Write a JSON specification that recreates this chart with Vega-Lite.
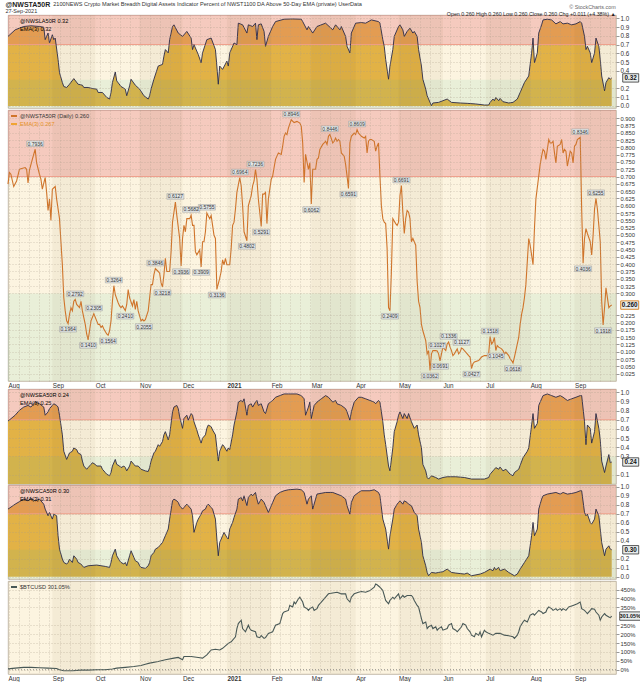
{
"$schema": "https://vega.github.io/schema/vega-lite/v6.json",
"padding": {"left": 5, "top": 0, "right": 0, "bottom": 0},
"background": "#ffffff",
"title": {"text": "@NWSTA50R", "subtitle": "27-Sep-2021", "anchor": "start", "fontSize": 7, "fontWeight": "bold", "subtitleFontSize": 5.5, "subtitlePadding": 1, "offset": -12.5, "color": "#222", "subtitleColor": "#333"},
"spacing": -3,
"resolve": {"scale": {"x": "independent", "y": "independent", "color": "independent", "fill": "independent"}, "legend": {"color": "independent"}, "axis": {"x": "independent", "y": "independent"}},
"datasets": {
"bands": [{"lo": -1, "hi": 0.3, "band": "low"}, {"lo": 0.3, "hi": 0.7, "band": "mid"}, {"lo": 0.7, "hi": 2, "band": "high"}],
"stripes": [{"a": "2020-09-01", "b": "2020-10-01"}, {"a": "2020-11-01", "b": "2020-12-01"}, {"a": "2021-01-01", "b": "2021-02-01"}, {"a": "2021-03-01", "b": "2021-04-01"}, {"a": "2021-05-01", "b": "2021-06-01"}, {"a": "2021-07-01", "b": "2021-08-01"}, {"a": "2021-09-01", "b": "2021-09-30"}],
"last": [{"p": "la", "t": "2021-09-27", "v": 0.32}, {"p": "main", "t": "2021-09-27", "v": 0.26}, {"p": "sea", "t": "2021-09-27", "v": 0.24}, {"p": "sca", "t": "2021-09-27", "v": 0.30}, {"p": "btc", "t": "2021-09-27", "v": 301.05}],
"notes": [
{"t":"2020-08-20","v":0.7936,"pos":"up"},{"t":"2020-09-12","v":0.1964,"pos":"down"},{"t":"2020-09-17","v":0.2792,"pos":"up"},{"t":"2020-09-26","v":0.1410,"pos":"down"},{"t":"2020-09-30","v":0.2305,"pos":"up"},{"t":"2020-10-10","v":0.1564,"pos":"down"},{"t":"2020-10-14","v":0.3264,"pos":"up"},{"t":"2020-10-22","v":0.2410,"pos":"down"},{"t":"2020-11-04","v":0.2055,"pos":"down"},{"t":"2020-11-12","v":0.3846,"pos":"up"},{"t":"2020-11-17","v":0.3218,"pos":"down"},{"t":"2020-11-26","v":0.6127,"pos":"up"},{"t":"2020-11-30","v":0.3936,"pos":"down"},{"t":"2020-12-07","v":0.5682,"pos":"up"},{"t":"2020-12-14","v":0.3909,"pos":"down"},{"t":"2020-12-18","v":0.5755,"pos":"up"},{"t":"2020-12-25","v":0.3136,"pos":"down"},{"t":"2021-01-10","v":0.6964,"pos":"up"},{"t":"2021-01-15","v":0.4802,"pos":"down"},{"t":"2021-01-21","v":0.7236,"pos":"up"},{"t":"2021-01-25","v":0.5291,"pos":"down"},{"t":"2021-02-15","v":0.8946,"pos":"up"},{"t":"2021-03-01","v":0.6062,"pos":"down"},{"t":"2021-03-14","v":0.8446,"pos":"up"},{"t":"2021-03-27","v":0.6591,"pos":"down"},{"t":"2021-04-02","v":0.8609,"pos":"up"},{"t":"2021-04-25","v":0.2409,"pos":"down"},{"t":"2021-05-03","v":0.6691,"pos":"up"},{"t":"2021-05-23","v":0.0362,"pos":"down"},{"t":"2021-05-28","v":0.1027,"pos":"up"},{"t":"2021-05-30","v":0.0691,"pos":"down"},{"t":"2021-06-05","v":0.1336,"pos":"up"},{"t":"2021-06-14","v":0.1127,"pos":"up"},{"t":"2021-06-21","v":0.0427,"pos":"down"},{"t":"2021-07-04","v":0.1518,"pos":"up"},{"t":"2021-07-08","v":0.1045,"pos":"down"},{"t":"2021-07-20","v":0.0618,"pos":"down"},{"t":"2021-09-05","v":0.8346,"pos":"up"},{"t":"2021-09-07","v":0.4036,"pos":"down"},{"t":"2021-09-16","v":0.6255,"pos":"up"},{"t":"2021-09-21","v":0.1918,"pos":"down"}],
"main": [
{"t":"2020-08-01","v":0.674},{"t":"2020-08-02","v":0.714},{"t":"2020-08-03","v":0.708},{"t":"2020-08-05","v":0.666},{"t":"2020-08-07","v":0.685},{"t":"2020-08-09","v":0.725},{"t":"2020-08-10","v":0.727},{"t":"2020-08-13","v":0.731},{"t":"2020-08-14","v":0.725},{"t":"2020-08-15","v":0.678},{"t":"2020-08-16","v":0.722},{"t":"2020-08-18","v":0.759},{"t":"2020-08-20","v":0.7936},{"t":"2020-08-21","v":0.747},{"t":"2020-08-23","v":0.708},{"t":"2020-08-24","v":0.691},{"t":"2020-08-25","v":0.657},{"t":"2020-08-27","v":0.697},{"t":"2020-08-28","v":0.646},{"t":"2020-08-29","v":0.584},{"t":"2020-08-30","v":0.623},{"t":"2020-08-31","v":0.55},
{"t":"2020-09-01","v":0.657},{"t":"2020-09-03","v":0.666},{"t":"2020-09-04","v":0.623},{"t":"2020-09-06","v":0.556},{"t":"2020-09-07","v":0.477},{"t":"2020-09-08","v":0.398},{"t":"2020-09-09","v":0.285},{"t":"2020-09-10","v":0.24},{"t":"2020-09-11","v":0.206},{"t":"2020-09-12","v":0.1964},{"t":"2020-09-13","v":0.228},{"t":"2020-09-14","v":0.251},{"t":"2020-09-15","v":0.24},{"t":"2020-09-16","v":0.273},{"t":"2020-09-17","v":0.2792},{"t":"2020-09-18","v":0.262},{"t":"2020-09-20","v":0.251},{"t":"2020-09-21","v":0.273},{"t":"2020-09-22","v":0.24},{"t":"2020-09-23","v":0.217},{"t":"2020-09-24","v":0.194},{"t":"2020-09-25","v":0.161},{"t":"2020-09-26","v":0.141},{"t":"2020-09-27","v":0.172},{"t":"2020-09-28","v":0.206},{"t":"2020-09-30","v":0.2305},
{"t":"2020-10-02","v":0.206},{"t":"2020-10-03","v":0.194},{"t":"2020-10-04","v":0.194},{"t":"2020-10-05","v":0.183},{"t":"2020-10-06","v":0.189},{"t":"2020-10-07","v":0.178},{"t":"2020-10-09","v":0.161},{"t":"2020-10-10","v":0.1564},{"t":"2020-10-11","v":0.172},{"t":"2020-10-12","v":0.206},{"t":"2020-10-13","v":0.273},{"t":"2020-10-14","v":0.3264},{"t":"2020-10-15","v":0.296},{"t":"2020-10-17","v":0.268},{"t":"2020-10-18","v":0.257},{"t":"2020-10-19","v":0.251},{"t":"2020-10-20","v":0.257},{"t":"2020-10-22","v":0.241},{"t":"2020-10-23","v":0.262},{"t":"2020-10-24","v":0.313},{"t":"2020-10-25","v":0.285},{"t":"2020-10-27","v":0.257},{"t":"2020-10-28","v":0.279},{"t":"2020-10-29","v":0.245},{"t":"2020-10-30","v":0.273},{"t":"2020-10-31","v":0.24},
{"t":"2020-11-01","v":0.223},{"t":"2020-11-02","v":0.206},{"t":"2020-11-03","v":0.211},{"t":"2020-11-04","v":0.2055},{"t":"2020-11-05","v":0.21},{"t":"2020-11-07","v":0.24},{"t":"2020-11-08","v":0.285},{"t":"2020-11-09","v":0.33},{"t":"2020-11-10","v":0.33},{"t":"2020-11-11","v":0.364},{"t":"2020-11-12","v":0.3846},{"t":"2020-11-14","v":0.375},{"t":"2020-11-15","v":0.369},{"t":"2020-11-16","v":0.336},{"t":"2020-11-17","v":0.3218},{"t":"2020-11-18","v":0.364},{"t":"2020-11-19","v":0.42},{"t":"2020-11-20","v":0.375},{"t":"2020-11-22","v":0.375},{"t":"2020-11-23","v":0.443},{"t":"2020-11-24","v":0.544},{"t":"2020-11-25","v":0.578},{"t":"2020-11-26","v":0.6127},{"t":"2020-11-27","v":0.567},{"t":"2020-11-29","v":0.488},{"t":"2020-11-30","v":0.3936},
{"t":"2020-12-01","v":0.488},{"t":"2020-12-02","v":0.533},{"t":"2020-12-03","v":0.511},{"t":"2020-12-04","v":0.556},{"t":"2020-12-06","v":0.556},{"t":"2020-12-07","v":0.5682},{"t":"2020-12-08","v":0.533},{"t":"2020-12-09","v":0.533},{"t":"2020-12-10","v":0.443},{"t":"2020-12-11","v":0.432},{"t":"2020-12-13","v":0.449},{"t":"2020-12-14","v":0.3909},{"t":"2020-12-15","v":0.477},{"t":"2020-12-16","v":0.477},{"t":"2020-12-17","v":0.511},{"t":"2020-12-18","v":0.5755},{"t":"2020-12-20","v":0.556},{"t":"2020-12-21","v":0.567},{"t":"2020-12-22","v":0.533},{"t":"2020-12-23","v":0.499},{"t":"2020-12-24","v":0.488},{"t":"2020-12-25","v":0.3136},{"t":"2020-12-27","v":0.352},{"t":"2020-12-28","v":0.375},{"t":"2020-12-29","v":0.415},{"t":"2020-12-30","v":0.398},{"t":"2020-12-31","v":0.42},
{"t":"2021-01-01","v":0.398},{"t":"2021-01-03","v":0.398},{"t":"2021-01-04","v":0.454},{"t":"2021-01-05","v":0.533},{"t":"2021-01-06","v":0.544},{"t":"2021-01-07","v":0.589},{"t":"2021-01-08","v":0.646},{"t":"2021-01-10","v":0.6964},{"t":"2021-01-11","v":0.668},{"t":"2021-01-12","v":0.6},{"t":"2021-01-13","v":0.511},{"t":"2021-01-15","v":0.4802},{"t":"2021-01-16","v":0.6},{"t":"2021-01-18","v":0.635},{"t":"2021-01-19","v":0.668},{"t":"2021-01-20","v":0.685},{"t":"2021-01-21","v":0.7236},{"t":"2021-01-22","v":0.691},{"t":"2021-01-23","v":0.623},{"t":"2021-01-25","v":0.5291},{"t":"2021-01-26","v":0.64},{"t":"2021-01-27","v":0.64},{"t":"2021-01-28","v":0.646},{"t":"2021-01-29","v":0.539},{"t":"2021-01-30","v":0.623},
{"t":"2021-02-01","v":0.691},{"t":"2021-02-02","v":0.702},{"t":"2021-02-03","v":0.731},{"t":"2021-02-04","v":0.759},{"t":"2021-02-05","v":0.77},{"t":"2021-02-06","v":0.781},{"t":"2021-02-08","v":0.776},{"t":"2021-02-09","v":0.804},{"t":"2021-02-10","v":0.838},{"t":"2021-02-11","v":0.849},{"t":"2021-02-12","v":0.844},{"t":"2021-02-13","v":0.866},{"t":"2021-02-15","v":0.8946},{"t":"2021-02-17","v":0.885},{"t":"2021-02-19","v":0.889},{"t":"2021-02-21","v":0.883},{"t":"2021-02-22","v":0.872},{"t":"2021-02-23","v":0.815},{"t":"2021-02-24","v":0.68},{"t":"2021-02-25","v":0.776},{"t":"2021-02-27","v":0.725},{"t":"2021-02-28","v":0.747},
{"t":"2021-03-01","v":0.6062},{"t":"2021-03-02","v":0.725},{"t":"2021-03-04","v":0.725},{"t":"2021-03-05","v":0.759},{"t":"2021-03-06","v":0.764},{"t":"2021-03-07","v":0.793},{"t":"2021-03-09","v":0.81},{"t":"2021-03-10","v":0.815},{"t":"2021-03-11","v":0.821},{"t":"2021-03-12","v":0.81},{"t":"2021-03-13","v":0.838},{"t":"2021-03-14","v":0.8446},{"t":"2021-03-16","v":0.815},{"t":"2021-03-17","v":0.821},{"t":"2021-03-18","v":0.832},{"t":"2021-03-19","v":0.821},{"t":"2021-03-20","v":0.827},{"t":"2021-03-21","v":0.821},{"t":"2021-03-22","v":0.781},{"t":"2021-03-24","v":0.77},{"t":"2021-03-25","v":0.742},{"t":"2021-03-26","v":0.702},{"t":"2021-03-27","v":0.6591},{"t":"2021-03-28","v":0.815},{"t":"2021-03-29","v":0.838},{"t":"2021-03-31","v":0.849},
{"t":"2021-04-01","v":0.844},{"t":"2021-04-02","v":0.8609},{"t":"2021-04-03","v":0.849},{"t":"2021-04-04","v":0.844},{"t":"2021-04-05","v":0.838},{"t":"2021-04-07","v":0.832},{"t":"2021-04-08","v":0.838},{"t":"2021-04-09","v":0.781},{"t":"2021-04-10","v":0.821},{"t":"2021-04-11","v":0.827},{"t":"2021-04-12","v":0.827},{"t":"2021-04-14","v":0.821},{"t":"2021-04-15","v":0.787},{"t":"2021-04-16","v":0.804},{"t":"2021-04-17","v":0.815},{"t":"2021-04-18","v":0.702},{"t":"2021-04-19","v":0.6},{"t":"2021-04-20","v":0.556},{"t":"2021-04-21","v":0.544},{"t":"2021-04-22","v":0.539},{"t":"2021-04-23","v":0.454},{"t":"2021-04-24","v":0.251},{"t":"2021-04-25","v":0.2409},{"t":"2021-04-26","v":0.375},{"t":"2021-04-27","v":0.556},{"t":"2021-04-29","v":0.539},{"t":"2021-04-30","v":0.533},
{"t":"2021-05-01","v":0.544},{"t":"2021-05-02","v":0.635},{"t":"2021-05-03","v":0.6691},{"t":"2021-05-04","v":0.578},{"t":"2021-05-05","v":0.505},{"t":"2021-05-06","v":0.556},{"t":"2021-05-07","v":0.584},{"t":"2021-05-08","v":0.578},{"t":"2021-05-09","v":0.556},{"t":"2021-05-10","v":0.477},{"t":"2021-05-11","v":0.488},{"t":"2021-05-13","v":0.465},{"t":"2021-05-14","v":0.341},{"t":"2021-05-15","v":0.273},{"t":"2021-05-16","v":0.251},{"t":"2021-05-17","v":0.194},{"t":"2021-05-18","v":0.172},{"t":"2021-05-20","v":0.138},{"t":"2021-05-21","v":0.093},{"t":"2021-05-22","v":0.104},{"t":"2021-05-23","v":0.0362},{"t":"2021-05-24","v":0.093},{"t":"2021-05-25","v":0.104},{"t":"2021-05-27","v":0.104},{"t":"2021-05-28","v":0.1027},{"t":"2021-05-29","v":0.093},{"t":"2021-05-30","v":0.0691},{"t":"2021-05-31","v":0.093},
{"t":"2021-06-01","v":0.116},{"t":"2021-06-03","v":0.104},{"t":"2021-06-04","v":0.127},{"t":"2021-06-05","v":0.1336},{"t":"2021-06-06","v":0.116},{"t":"2021-06-07","v":0.104},{"t":"2021-06-08","v":0.087},{"t":"2021-06-09","v":0.093},{"t":"2021-06-11","v":0.11},{"t":"2021-06-12","v":0.093},{"t":"2021-06-13","v":0.099},{"t":"2021-06-14","v":0.1127},{"t":"2021-06-15","v":0.11},{"t":"2021-06-16","v":0.104},{"t":"2021-06-18","v":0.093},{"t":"2021-06-19","v":0.087},{"t":"2021-06-20","v":0.082},{"t":"2021-06-21","v":0.0427},{"t":"2021-06-22","v":0.059},{"t":"2021-06-23","v":0.065},{"t":"2021-06-26","v":0.07},{"t":"2021-06-28","v":0.082},{"t":"2021-06-30","v":0.087},
{"t":"2021-07-02","v":0.087},{"t":"2021-07-03","v":0.093},{"t":"2021-07-04","v":0.1518},{"t":"2021-07-05","v":0.127},{"t":"2021-07-06","v":0.133},{"t":"2021-07-07","v":0.149},{"t":"2021-07-08","v":0.1045},{"t":"2021-07-09","v":0.121},{"t":"2021-07-10","v":0.116},{"t":"2021-07-12","v":0.11},{"t":"2021-07-13","v":0.104},{"t":"2021-07-14","v":0.093},{"t":"2021-07-15","v":0.099},{"t":"2021-07-17","v":0.087},{"t":"2021-07-18","v":0.076},{"t":"2021-07-19","v":0.07},{"t":"2021-07-20","v":0.0618},{"t":"2021-07-21","v":0.082},{"t":"2021-07-22","v":0.104},{"t":"2021-07-24","v":0.149},{"t":"2021-07-25","v":0.194},{"t":"2021-07-26","v":0.228},{"t":"2021-07-27","v":0.251},{"t":"2021-07-28","v":0.285},{"t":"2021-07-29","v":0.33},{"t":"2021-07-31","v":0.488},
{"t":"2021-08-01","v":0.465},{"t":"2021-08-02","v":0.432},{"t":"2021-08-03","v":0.398},{"t":"2021-08-04","v":0.522},{"t":"2021-08-05","v":0.623},{"t":"2021-08-07","v":0.702},{"t":"2021-08-08","v":0.742},{"t":"2021-08-09","v":0.77},{"t":"2021-08-10","v":0.793},{"t":"2021-08-11","v":0.787},{"t":"2021-08-12","v":0.759},{"t":"2021-08-14","v":0.827},{"t":"2021-08-15","v":0.815},{"t":"2021-08-16","v":0.815},{"t":"2021-08-17","v":0.821},{"t":"2021-08-18","v":0.781},{"t":"2021-08-19","v":0.747},{"t":"2021-08-20","v":0.804},{"t":"2021-08-22","v":0.81},{"t":"2021-08-23","v":0.827},{"t":"2021-08-24","v":0.781},{"t":"2021-08-25","v":0.793},{"t":"2021-08-26","v":0.787},{"t":"2021-08-27","v":0.736},{"t":"2021-08-29","v":0.787},{"t":"2021-08-30","v":0.781},{"t":"2021-08-31","v":0.747},
{"t":"2021-09-01","v":0.804},{"t":"2021-09-02","v":0.81},{"t":"2021-09-03","v":0.827},{"t":"2021-09-05","v":0.8346},{"t":"2021-09-06","v":0.589},{"t":"2021-09-07","v":0.4036},{"t":"2021-09-08","v":0.488},{"t":"2021-09-09","v":0.522},{"t":"2021-09-10","v":0.505},{"t":"2021-09-12","v":0.477},{"t":"2021-09-13","v":0.432},{"t":"2021-09-14","v":0.499},{"t":"2021-09-15","v":0.589},{"t":"2021-09-16","v":0.6255},{"t":"2021-09-17","v":0.589},{"t":"2021-09-18","v":0.533},{"t":"2021-09-19","v":0.477},{"t":"2021-09-20","v":0.273},{"t":"2021-09-21","v":0.1918},{"t":"2021-09-22","v":0.251},{"t":"2021-09-23","v":0.319},{"t":"2021-09-25","v":0.251},{"t":"2021-09-26","v":0.257},{"t":"2021-09-27","v":0.26}],
"la": [
{"t":"2020-08-01","v":0.793},{"t":"2020-08-06","v":0.868},{"t":"2020-08-12","v":0.906},{"t":"2020-08-17","v":0.914},{"t":"2020-08-23","v":0.906},{"t":"2020-08-26","v":0.898},{"t":"2020-08-27","v":0.756},{"t":"2020-08-29","v":0.831},{"t":"2020-08-30","v":0.718},{"t":"2020-09-01","v":0.812},{"t":"2020-09-02","v":0.756},{"t":"2020-09-03","v":0.774},{"t":"2020-09-05","v":0.53},{"t":"2020-09-06","v":0.38},{"t":"2020-09-08","v":0.267},{"t":"2020-09-09","v":0.222},{"t":"2020-09-11","v":0.211},{"t":"2020-09-13","v":0.248},{"t":"2020-09-16","v":0.312},{"t":"2020-09-19","v":0.248},{"t":"2020-09-22","v":0.237},{"t":"2020-09-23","v":0.211},{"t":"2020-09-26","v":0.211},{"t":"2020-09-29","v":0.199},
{"t":"2020-10-02","v":0.192},{"t":"2020-10-03","v":0.154},{"t":"2020-10-06","v":0.154},{"t":"2020-10-09","v":0.098},{"t":"2020-10-11","v":0.079},{"t":"2020-10-12","v":0.154},{"t":"2020-10-13","v":0.267},{"t":"2020-10-15","v":0.387},{"t":"2020-10-16","v":0.286},{"t":"2020-10-19","v":0.222},{"t":"2020-10-22","v":0.192},{"t":"2020-10-23","v":0.117},{"t":"2020-10-25","v":0.229},{"t":"2020-10-26","v":0.305},{"t":"2020-10-29","v":0.237},{"t":"2020-11-01","v":0.192},{"t":"2020-11-04","v":0.117},{"t":"2020-11-07","v":0.079},{"t":"2020-11-08","v":0.117},{"t":"2020-11-09","v":0.192},{"t":"2020-11-11","v":0.305},{"t":"2020-11-14","v":0.455},{"t":"2020-11-17","v":0.474},{"t":"2020-11-18","v":0.568},{"t":"2020-11-19","v":0.643},{"t":"2020-11-21","v":0.605},{"t":"2020-11-22","v":0.756},{"t":"2020-11-24","v":0.906},{"t":"2020-11-25","v":0.925},{"t":"2020-11-28","v":0.831},
{"t":"2020-12-01","v":0.793},{"t":"2020-12-04","v":0.85},{"t":"2020-12-07","v":0.774},{"t":"2020-12-08","v":0.643},{"t":"2020-12-09","v":0.699},{"t":"2020-12-12","v":0.586},{"t":"2020-12-14","v":0.492},{"t":"2020-12-15","v":0.605},{"t":"2020-12-18","v":0.756},{"t":"2020-12-21","v":0.774},{"t":"2020-12-24","v":0.643},{"t":"2020-12-25","v":0.455},{"t":"2020-12-26","v":0.248},{"t":"2020-12-27","v":0.455},{"t":"2020-12-29","v":0.417},{"t":"2021-01-01","v":0.511},{"t":"2021-01-02","v":0.455},{"t":"2021-01-03","v":0.605},{"t":"2021-01-06","v":0.718},{"t":"2021-01-08","v":0.699},{"t":"2021-01-09","v":0.944},{"t":"2021-01-12","v":0.925},{"t":"2021-01-15","v":0.831},{"t":"2021-01-16","v":0.925},{"t":"2021-01-19","v":0.906},{"t":"2021-01-21","v":0.944},{"t":"2021-01-22","v":0.756},{"t":"2021-01-23","v":0.925},{"t":"2021-01-25","v":0.936},{"t":"2021-01-27","v":0.85},{"t":"2021-01-28","v":0.68},{"t":"2021-01-30","v":0.793},
{"t":"2021-02-02","v":0.906},{"t":"2021-02-04","v":0.962},{"t":"2021-02-10","v":0.989},{"t":"2021-02-16","v":0.992},{"t":"2021-02-22","v":0.989},{"t":"2021-02-23","v":0.962},{"t":"2021-02-26","v":0.868},{"t":"2021-02-27","v":0.906},{"t":"2021-03-02","v":0.831},{"t":"2021-03-05","v":0.906},{"t":"2021-03-11","v":0.944},{"t":"2021-03-16","v":0.868},{"t":"2021-03-18","v":0.925},{"t":"2021-03-21","v":0.868},{"t":"2021-03-22","v":0.906},{"t":"2021-03-25","v":0.793},{"t":"2021-03-26","v":0.68},{"t":"2021-03-28","v":0.605},{"t":"2021-03-29","v":0.831},{"t":"2021-04-01","v":0.944},{"t":"2021-04-05","v":0.951},{"t":"2021-04-08","v":0.944},{"t":"2021-04-12","v":0.981},{"t":"2021-04-17","v":0.962},{"t":"2021-04-18","v":0.944},{"t":"2021-04-20","v":0.756},{"t":"2021-04-21","v":0.68},{"t":"2021-04-22","v":0.53},{"t":"2021-04-24","v":0.305},{"t":"2021-04-25","v":0.455},{"t":"2021-04-27","v":0.643},{"t":"2021-04-28","v":0.793},
{"t":"2021-05-01","v":0.906},{"t":"2021-05-02","v":0.925},{"t":"2021-05-04","v":0.868},{"t":"2021-05-05","v":0.793},{"t":"2021-05-07","v":0.85},{"t":"2021-05-09","v":0.887},{"t":"2021-05-11","v":0.831},{"t":"2021-05-12","v":0.85},{"t":"2021-05-14","v":0.793},{"t":"2021-05-15","v":0.643},{"t":"2021-05-17","v":0.455},{"t":"2021-05-18","v":0.305},{"t":"2021-05-20","v":0.192},{"t":"2021-05-21","v":0.117},{"t":"2021-05-22","v":0.079},{"t":"2021-05-24","v":0.004},{"t":"2021-05-25","v":0.034},{"t":"2021-05-29","v":0.041},{"t":"2021-06-01","v":0.06},{"t":"2021-06-04","v":0.079},{"t":"2021-06-07","v":0.041},{"t":"2021-06-13","v":0.034},{"t":"2021-06-18","v":0.03},{"t":"2021-06-24","v":0.023},{"t":"2021-06-30","v":0.011},
{"t":"2021-07-03","v":0.011},{"t":"2021-07-04","v":0.041},{"t":"2021-07-06","v":0.079},{"t":"2021-07-07","v":0.06},{"t":"2021-07-08","v":0.098},{"t":"2021-07-10","v":0.06},{"t":"2021-07-11","v":0.086},{"t":"2021-07-13","v":0.049},{"t":"2021-07-17","v":0.034},{"t":"2021-07-20","v":0.041},{"t":"2021-07-23","v":0.079},{"t":"2021-07-25","v":0.154},{"t":"2021-07-28","v":0.267},{"t":"2021-07-31","v":0.342},{"t":"2021-08-02","v":0.605},{"t":"2021-08-03","v":0.774},{"t":"2021-08-04","v":0.492},{"t":"2021-08-06","v":0.605},{"t":"2021-08-07","v":0.831},{"t":"2021-08-09","v":0.925},{"t":"2021-08-10","v":0.981},{"t":"2021-08-13","v":0.989},{"t":"2021-08-16","v":0.981},{"t":"2021-08-19","v":0.936},{"t":"2021-08-22","v":0.962},{"t":"2021-08-24","v":0.936},{"t":"2021-08-27","v":0.944},{"t":"2021-08-30","v":0.925},
{"t":"2021-09-02","v":0.936},{"t":"2021-09-05","v":0.962},{"t":"2021-09-06","v":0.944},{"t":"2021-09-08","v":0.793},{"t":"2021-09-09","v":0.643},{"t":"2021-09-10","v":0.68},{"t":"2021-09-12","v":0.605},{"t":"2021-09-13","v":0.492},{"t":"2021-09-15","v":0.605},{"t":"2021-09-16","v":0.774},{"t":"2021-09-18","v":0.68},{"t":"2021-09-19","v":0.53},{"t":"2021-09-20","v":0.342},{"t":"2021-09-22","v":0.173},{"t":"2021-09-23","v":0.267},{"t":"2021-09-25","v":0.323},{"t":"2021-09-26","v":0.305},{"t":"2021-09-27","v":0.32}],
"sea": [
{"t":"2020-08-01","v":0.686},{"t":"2020-08-06","v":0.75},{"t":"2020-08-09","v":0.804},{"t":"2020-08-12","v":0.839},{"t":"2020-08-15","v":0.857},{"t":"2020-08-17","v":0.839},{"t":"2020-08-20","v":0.893},{"t":"2020-08-23","v":0.875},{"t":"2020-08-26","v":0.839},{"t":"2020-08-27","v":0.75},{"t":"2020-08-29","v":0.786},{"t":"2020-08-30","v":0.821},{"t":"2020-09-01","v":0.857},{"t":"2020-09-02","v":0.875},{"t":"2020-09-04","v":0.857},{"t":"2020-09-05","v":0.839},{"t":"2020-09-06","v":0.75},{"t":"2020-09-08","v":0.536},{"t":"2020-09-09","v":0.357},{"t":"2020-09-11","v":0.268},{"t":"2020-09-12","v":0.304},{"t":"2020-09-13","v":0.339},{"t":"2020-09-15","v":0.357},{"t":"2020-09-16","v":0.393},{"t":"2020-09-18","v":0.375},{"t":"2020-09-19","v":0.339},{"t":"2020-09-21","v":0.321},{"t":"2020-09-22","v":0.25},{"t":"2020-09-23","v":0.196},{"t":"2020-09-25","v":0.161},{"t":"2020-09-26","v":0.179},{"t":"2020-09-28","v":0.214},{"t":"2020-09-29","v":0.232},
{"t":"2020-10-01","v":0.214},{"t":"2020-10-02","v":0.196},{"t":"2020-10-05","v":0.196},{"t":"2020-10-06","v":0.161},{"t":"2020-10-08","v":0.125},{"t":"2020-10-09","v":0.107},{"t":"2020-10-11","v":0.089},{"t":"2020-10-12","v":0.125},{"t":"2020-10-13","v":0.196},{"t":"2020-10-15","v":0.268},{"t":"2020-10-16","v":0.214},{"t":"2020-10-18","v":0.196},{"t":"2020-10-19","v":0.179},{"t":"2020-10-21","v":0.196},{"t":"2020-10-22","v":0.179},{"t":"2020-10-23","v":0.143},{"t":"2020-10-25","v":0.196},{"t":"2020-10-26","v":0.25},{"t":"2020-10-28","v":0.214},{"t":"2020-10-29","v":0.196},{"t":"2020-10-31","v":0.196},
{"t":"2020-11-02","v":0.161},{"t":"2020-11-05","v":0.143},{"t":"2020-11-07","v":0.136},{"t":"2020-11-08","v":0.179},{"t":"2020-11-09","v":0.25},{"t":"2020-11-11","v":0.339},{"t":"2020-11-12","v":0.357},{"t":"2020-11-14","v":0.429},{"t":"2020-11-15","v":0.411},{"t":"2020-11-17","v":0.464},{"t":"2020-11-18","v":0.536},{"t":"2020-11-19","v":0.571},{"t":"2020-11-21","v":0.482},{"t":"2020-11-22","v":0.536},{"t":"2020-11-24","v":0.786},{"t":"2020-11-25","v":0.839},{"t":"2020-11-27","v":0.857},{"t":"2020-11-28","v":0.821},{"t":"2020-11-29","v":0.732},
{"t":"2020-12-01","v":0.607},{"t":"2020-12-02","v":0.714},{"t":"2020-12-04","v":0.75},{"t":"2020-12-05","v":0.696},{"t":"2020-12-07","v":0.768},{"t":"2020-12-08","v":0.75},{"t":"2020-12-09","v":0.679},{"t":"2020-12-11","v":0.589},{"t":"2020-12-12","v":0.536},{"t":"2020-12-14","v":0.446},{"t":"2020-12-15","v":0.5},{"t":"2020-12-17","v":0.536},{"t":"2020-12-18","v":0.607},{"t":"2020-12-19","v":0.643},{"t":"2020-12-21","v":0.625},{"t":"2020-12-22","v":0.589},{"t":"2020-12-24","v":0.536},{"t":"2020-12-25","v":0.393},{"t":"2020-12-26","v":0.25},{"t":"2020-12-27","v":0.357},{"t":"2020-12-29","v":0.429},{"t":"2020-12-30","v":0.411},
{"t":"2021-01-01","v":0.357},{"t":"2021-01-02","v":0.393},{"t":"2021-01-03","v":0.375},{"t":"2021-01-05","v":0.536},{"t":"2021-01-06","v":0.643},{"t":"2021-01-08","v":0.786},{"t":"2021-01-09","v":0.893},{"t":"2021-01-11","v":0.911},{"t":"2021-01-12","v":0.893},{"t":"2021-01-13","v":0.929},{"t":"2021-01-15","v":0.75},{"t":"2021-01-16","v":0.857},{"t":"2021-01-18","v":0.875},{"t":"2021-01-19","v":0.839},{"t":"2021-01-21","v":0.893},{"t":"2021-01-22","v":0.911},{"t":"2021-01-23","v":0.857},{"t":"2021-01-25","v":0.875},{"t":"2021-01-27","v":0.786},{"t":"2021-01-28","v":0.768},{"t":"2021-01-30","v":0.875},
{"t":"2021-02-02","v":0.911},{"t":"2021-02-04","v":0.946},{"t":"2021-02-07","v":0.964},{"t":"2021-02-10","v":0.982},{"t":"2021-02-13","v":0.982},{"t":"2021-02-19","v":0.982},{"t":"2021-02-22","v":0.964},{"t":"2021-02-24","v":0.929},{"t":"2021-02-25","v":0.75},{"t":"2021-02-27","v":0.839},{"t":"2021-02-28","v":0.893},{"t":"2021-03-01","v":0.714},{"t":"2021-03-03","v":0.857},{"t":"2021-03-05","v":0.893},{"t":"2021-03-08","v":0.929},{"t":"2021-03-11","v":0.964},{"t":"2021-03-13","v":0.946},{"t":"2021-03-16","v":0.893},{"t":"2021-03-18","v":0.911},{"t":"2021-03-19","v":0.875},{"t":"2021-03-22","v":0.857},{"t":"2021-03-25","v":0.821},{"t":"2021-03-26","v":0.786},{"t":"2021-03-28","v":0.696},{"t":"2021-03-29","v":0.786},{"t":"2021-03-31","v":0.893},
{"t":"2021-04-03","v":0.946},{"t":"2021-04-05","v":0.946},{"t":"2021-04-08","v":0.929},{"t":"2021-04-11","v":0.911},{"t":"2021-04-14","v":0.893},{"t":"2021-04-15","v":0.875},{"t":"2021-04-17","v":0.911},{"t":"2021-04-18","v":0.893},{"t":"2021-04-20","v":0.679},{"t":"2021-04-21","v":0.536},{"t":"2021-04-22","v":0.429},{"t":"2021-04-24","v":0.196},{"t":"2021-04-25","v":0.143},{"t":"2021-04-27","v":0.393},{"t":"2021-04-28","v":0.571},{"t":"2021-04-30","v":0.679},
{"t":"2021-05-01","v":0.75},{"t":"2021-05-02","v":0.786},{"t":"2021-05-04","v":0.714},{"t":"2021-05-05","v":0.768},{"t":"2021-05-07","v":0.714},{"t":"2021-05-08","v":0.768},{"t":"2021-05-10","v":0.679},{"t":"2021-05-11","v":0.643},{"t":"2021-05-12","v":0.607},{"t":"2021-05-14","v":0.643},{"t":"2021-05-15","v":0.536},{"t":"2021-05-17","v":0.393},{"t":"2021-05-18","v":0.214},{"t":"2021-05-20","v":0.143},{"t":"2021-05-21","v":0.071},{"t":"2021-05-22","v":0.054},{"t":"2021-05-24","v":0.089},{"t":"2021-05-27","v":0.071},{"t":"2021-05-29","v":0.054},{"t":"2021-06-01","v":0.071},{"t":"2021-06-04","v":0.079},{"t":"2021-06-10","v":0.079},{"t":"2021-06-16","v":0.071},{"t":"2021-06-21","v":0.054},{"t":"2021-06-30","v":0.054},
{"t":"2021-07-03","v":0.071},{"t":"2021-07-04","v":0.107},{"t":"2021-07-06","v":0.143},{"t":"2021-07-07","v":0.161},{"t":"2021-07-08","v":0.179},{"t":"2021-07-10","v":0.161},{"t":"2021-07-11","v":0.186},{"t":"2021-07-13","v":0.143},{"t":"2021-07-15","v":0.161},{"t":"2021-07-18","v":0.107},{"t":"2021-07-20","v":0.089},{"t":"2021-07-21","v":0.125},{"t":"2021-07-24","v":0.161},{"t":"2021-07-27","v":0.286},{"t":"2021-07-30","v":0.357},{"t":"2021-07-31","v":0.393},
{"t":"2021-08-02","v":0.643},{"t":"2021-08-03","v":0.768},{"t":"2021-08-04","v":0.607},{"t":"2021-08-06","v":0.661},{"t":"2021-08-07","v":0.857},{"t":"2021-08-09","v":0.929},{"t":"2021-08-10","v":0.964},{"t":"2021-08-13","v":0.982},{"t":"2021-08-16","v":0.964},{"t":"2021-08-19","v":0.946},{"t":"2021-08-22","v":0.964},{"t":"2021-08-24","v":0.946},{"t":"2021-08-27","v":0.911},{"t":"2021-08-30","v":0.929},
{"t":"2021-09-02","v":0.946},{"t":"2021-09-05","v":0.964},{"t":"2021-09-06","v":0.964},{"t":"2021-09-08","v":0.679},{"t":"2021-09-09","v":0.429},{"t":"2021-09-10","v":0.643},{"t":"2021-09-12","v":0.607},{"t":"2021-09-13","v":0.446},{"t":"2021-09-15","v":0.571},{"t":"2021-09-16","v":0.768},{"t":"2021-09-18","v":0.607},{"t":"2021-09-19","v":0.482},{"t":"2021-09-20","v":0.25},{"t":"2021-09-22","v":0.125},{"t":"2021-09-23","v":0.196},{"t":"2021-09-25","v":0.321},{"t":"2021-09-26","v":0.232},{"t":"2021-09-27","v":0.24}],
"sca": [
{"t":"2020-08-01","v":0.752},{"t":"2020-08-06","v":0.807},{"t":"2020-08-12","v":0.863},{"t":"2020-08-15","v":0.844},{"t":"2020-08-17","v":0.87},{"t":"2020-08-20","v":0.844},{"t":"2020-08-23","v":0.863},{"t":"2020-08-26","v":0.807},{"t":"2020-08-27","v":0.752},{"t":"2020-08-29","v":0.678},{"t":"2020-08-30","v":0.715},{"t":"2020-09-01","v":0.641},{"t":"2020-09-02","v":0.696},{"t":"2020-09-04","v":0.678},{"t":"2020-09-05","v":0.456},{"t":"2020-09-06","v":0.307},{"t":"2020-09-08","v":0.196},{"t":"2020-09-09","v":0.159},{"t":"2020-09-11","v":0.141},{"t":"2020-09-12","v":0.159},{"t":"2020-09-13","v":0.196},{"t":"2020-09-15","v":0.159},{"t":"2020-09-16","v":0.233},{"t":"2020-09-18","v":0.196},{"t":"2020-09-19","v":0.159},{"t":"2020-09-21","v":0.141},{"t":"2020-09-22","v":0.122},{"t":"2020-09-23","v":0.104},{"t":"2020-09-26","v":0.122},
{"t":"2020-10-02","v":0.13},{"t":"2020-10-08","v":0.115},{"t":"2020-10-11","v":0.104},{"t":"2020-10-12","v":0.159},{"t":"2020-10-13","v":0.233},{"t":"2020-10-15","v":0.307},{"t":"2020-10-16","v":0.233},{"t":"2020-10-18","v":0.178},{"t":"2020-10-19","v":0.159},{"t":"2020-10-21","v":0.141},{"t":"2020-10-22","v":0.159},{"t":"2020-10-23","v":0.122},{"t":"2020-10-25","v":0.233},{"t":"2020-10-26","v":0.289},{"t":"2020-10-28","v":0.215},{"t":"2020-10-29","v":0.178},{"t":"2020-10-31","v":0.159},
{"t":"2020-11-01","v":0.122},{"t":"2020-11-02","v":0.104},{"t":"2020-11-05","v":0.093},{"t":"2020-11-07","v":0.122},{"t":"2020-11-08","v":0.159},{"t":"2020-11-09","v":0.233},{"t":"2020-11-11","v":0.27},{"t":"2020-11-12","v":0.307},{"t":"2020-11-14","v":0.326},{"t":"2020-11-15","v":0.344},{"t":"2020-11-17","v":0.381},{"t":"2020-11-18","v":0.419},{"t":"2020-11-19","v":0.456},{"t":"2020-11-21","v":0.53},{"t":"2020-11-22","v":0.641},{"t":"2020-11-24","v":0.844},{"t":"2020-11-25","v":0.863},{"t":"2020-11-27","v":0.844},{"t":"2020-11-28","v":0.826},{"t":"2020-11-29","v":0.789},
{"t":"2020-12-01","v":0.752},{"t":"2020-12-02","v":0.77},{"t":"2020-12-04","v":0.807},{"t":"2020-12-05","v":0.789},{"t":"2020-12-07","v":0.752},{"t":"2020-12-08","v":0.678},{"t":"2020-12-09","v":0.493},{"t":"2020-12-11","v":0.604},{"t":"2020-12-12","v":0.641},{"t":"2020-12-14","v":0.696},{"t":"2020-12-15","v":0.733},{"t":"2020-12-17","v":0.752},{"t":"2020-12-18","v":0.789},{"t":"2020-12-19","v":0.807},{"t":"2020-12-21","v":0.77},{"t":"2020-12-22","v":0.752},{"t":"2020-12-24","v":0.641},{"t":"2020-12-25","v":0.419},{"t":"2020-12-26","v":0.233},{"t":"2020-12-27","v":0.381},{"t":"2020-12-29","v":0.456},{"t":"2020-12-30","v":0.493},
{"t":"2021-01-01","v":0.437},{"t":"2021-01-02","v":0.419},{"t":"2021-01-03","v":0.53},{"t":"2021-01-05","v":0.604},{"t":"2021-01-06","v":0.659},{"t":"2021-01-08","v":0.752},{"t":"2021-01-09","v":0.863},{"t":"2021-01-11","v":0.881},{"t":"2021-01-12","v":0.844},{"t":"2021-01-13","v":0.9},{"t":"2021-01-15","v":0.789},{"t":"2021-01-16","v":0.881},{"t":"2021-01-18","v":0.919},{"t":"2021-01-19","v":0.9},{"t":"2021-01-21","v":0.937},{"t":"2021-01-22","v":0.863},{"t":"2021-01-23","v":0.807},{"t":"2021-01-25","v":0.863},{"t":"2021-01-27","v":0.826},{"t":"2021-01-28","v":0.789},{"t":"2021-01-30","v":0.715},{"t":"2021-01-31","v":0.752},
{"t":"2021-02-02","v":0.826},{"t":"2021-02-04","v":0.9},{"t":"2021-02-07","v":0.937},{"t":"2021-02-10","v":0.956},{"t":"2021-02-13","v":0.967},{"t":"2021-02-19","v":0.974},{"t":"2021-02-22","v":0.967},{"t":"2021-02-24","v":0.937},{"t":"2021-02-26","v":0.807},{"t":"2021-02-27","v":0.863},{"t":"2021-03-01","v":0.9},{"t":"2021-03-02","v":0.752},{"t":"2021-03-04","v":0.863},{"t":"2021-03-05","v":0.919},{"t":"2021-03-11","v":0.937},{"t":"2021-03-16","v":0.937},{"t":"2021-03-22","v":0.9},{"t":"2021-03-25","v":0.863},{"t":"2021-03-26","v":0.789},{"t":"2021-03-28","v":0.696},{"t":"2021-03-29","v":0.826},{"t":"2021-03-31","v":0.9},
{"t":"2021-04-03","v":0.937},{"t":"2021-04-05","v":0.956},{"t":"2021-04-11","v":0.956},{"t":"2021-04-14","v":0.967},{"t":"2021-04-17","v":0.937},{"t":"2021-04-18","v":0.9},{"t":"2021-04-20","v":0.641},{"t":"2021-04-22","v":0.53},{"t":"2021-04-24","v":0.307},{"t":"2021-04-25","v":0.456},{"t":"2021-04-27","v":0.641},{"t":"2021-04-28","v":0.752},{"t":"2021-04-30","v":0.807},
{"t":"2021-05-01","v":0.826},{"t":"2021-05-02","v":0.844},{"t":"2021-05-04","v":0.807},{"t":"2021-05-05","v":0.844},{"t":"2021-05-07","v":0.826},{"t":"2021-05-08","v":0.807},{"t":"2021-05-10","v":0.789},{"t":"2021-05-11","v":0.752},{"t":"2021-05-12","v":0.715},{"t":"2021-05-14","v":0.678},{"t":"2021-05-15","v":0.53},{"t":"2021-05-17","v":0.381},{"t":"2021-05-18","v":0.233},{"t":"2021-05-20","v":0.122},{"t":"2021-05-21","v":0.048},{"t":"2021-05-22","v":0.011},{"t":"2021-05-24","v":0.048},{"t":"2021-05-27","v":0.041},{"t":"2021-05-29","v":0.048},{"t":"2021-06-01","v":0.056},{"t":"2021-06-04","v":0.085},{"t":"2021-06-07","v":0.048},{"t":"2021-06-10","v":0.041},{"t":"2021-06-16","v":0.03},{"t":"2021-06-18","v":0.041},{"t":"2021-06-21","v":0.011},{"t":"2021-06-27","v":0.03},{"t":"2021-06-30","v":0.048},
{"t":"2021-07-04","v":0.085},{"t":"2021-07-06","v":0.067},{"t":"2021-07-07","v":0.104},{"t":"2021-07-08","v":0.078},{"t":"2021-07-10","v":0.104},{"t":"2021-07-11","v":0.067},{"t":"2021-07-14","v":0.085},{"t":"2021-07-17","v":0.048},{"t":"2021-07-21","v":0.011},{"t":"2021-07-23","v":0.03},{"t":"2021-07-25","v":0.085},{"t":"2021-07-28","v":0.159},{"t":"2021-07-31","v":0.233},
{"t":"2021-08-02","v":0.456},{"t":"2021-08-03","v":0.604},{"t":"2021-08-04","v":0.456},{"t":"2021-08-06","v":0.53},{"t":"2021-08-07","v":0.752},{"t":"2021-08-09","v":0.863},{"t":"2021-08-10","v":0.9},{"t":"2021-08-13","v":0.919},{"t":"2021-08-19","v":0.937},{"t":"2021-08-22","v":0.919},{"t":"2021-08-24","v":0.937},{"t":"2021-08-27","v":0.919},{"t":"2021-08-30","v":0.926},
{"t":"2021-09-02","v":0.937},{"t":"2021-09-05","v":0.956},{"t":"2021-09-06","v":0.956},{"t":"2021-09-08","v":0.715},{"t":"2021-09-09","v":0.678},{"t":"2021-09-10","v":0.696},{"t":"2021-09-12","v":0.604},{"t":"2021-09-13","v":0.585},{"t":"2021-09-15","v":0.641},{"t":"2021-09-16","v":0.752},{"t":"2021-09-18","v":0.678},{"t":"2021-09-19","v":0.53},{"t":"2021-09-20","v":0.381},{"t":"2021-09-22","v":0.233},{"t":"2021-09-23","v":0.307},{"t":"2021-09-25","v":0.344},{"t":"2021-09-26","v":0.307},{"t":"2021-09-27","v":0.30}],
"btc": [
{"t":"2020-08-01","v":5},{"t":"2020-08-06","v":9},{"t":"2020-08-12","v":13},{"t":"2020-08-17","v":13},{"t":"2020-08-23","v":11},{"t":"2020-08-29","v":9},{"t":"2020-09-04","v":7},{"t":"2020-09-06","v":0},{"t":"2020-09-09","v":-6},{"t":"2020-09-15","v":-6},{"t":"2020-09-21","v":-2},{"t":"2020-09-26","v":-2},{"t":"2020-10-02","v":0},{"t":"2020-10-08","v":0},{"t":"2020-10-13","v":4},{"t":"2020-10-16","v":9},{"t":"2020-10-22","v":13},{"t":"2020-10-28","v":18},{"t":"2020-11-02","v":24},{"t":"2020-11-05","v":31},{"t":"2020-11-08","v":37},{"t":"2020-11-14","v":46},{"t":"2020-11-19","v":56},{"t":"2020-11-25","v":65},{"t":"2020-11-28","v":69},
{"t":"2020-12-01","v":56},{"t":"2020-12-02","v":74},{"t":"2020-12-07","v":74},{"t":"2020-12-12","v":69},{"t":"2020-12-15","v":65},{"t":"2020-12-18","v":83},{"t":"2020-12-21","v":111},{"t":"2020-12-24","v":115},{"t":"2020-12-27","v":111},{"t":"2020-12-29","v":120},{"t":"2021-01-02","v":148},{"t":"2021-01-04","v":157},{"t":"2021-01-07","v":185},{"t":"2021-01-08","v":231},{"t":"2021-01-09","v":259},{"t":"2021-01-11","v":278},{"t":"2021-01-12","v":231},{"t":"2021-01-14","v":213},{"t":"2021-01-16","v":250},{"t":"2021-01-17","v":231},{"t":"2021-01-18","v":222},{"t":"2021-01-21","v":213},{"t":"2021-01-22","v":185},{"t":"2021-01-24","v":180},{"t":"2021-01-25","v":191},{"t":"2021-01-27","v":176},{"t":"2021-01-28","v":180},{"t":"2021-01-30","v":204},
{"t":"2021-02-02","v":213},{"t":"2021-02-03","v":231},{"t":"2021-02-04","v":250},{"t":"2021-02-07","v":259},{"t":"2021-02-09","v":315},{"t":"2021-02-10","v":324},{"t":"2021-02-13","v":333},{"t":"2021-02-14","v":361},{"t":"2021-02-16","v":352},{"t":"2021-02-17","v":380},{"t":"2021-02-18","v":370},{"t":"2021-02-20","v":398},{"t":"2021-02-21","v":407},{"t":"2021-02-23","v":380},{"t":"2021-02-24","v":352},{"t":"2021-02-26","v":343},{"t":"2021-02-27","v":333},{"t":"2021-02-28","v":343},
{"t":"2021-03-02","v":352},{"t":"2021-03-03","v":333},{"t":"2021-03-05","v":343},{"t":"2021-03-06","v":361},{"t":"2021-03-08","v":380},{"t":"2021-03-11","v":407},{"t":"2021-03-13","v":426},{"t":"2021-03-16","v":431},{"t":"2021-03-19","v":435},{"t":"2021-03-22","v":426},{"t":"2021-03-25","v":426},{"t":"2021-03-26","v":398},{"t":"2021-03-28","v":380},{"t":"2021-03-29","v":407},{"t":"2021-03-31","v":426},
{"t":"2021-04-03","v":435},{"t":"2021-04-05","v":439},{"t":"2021-04-08","v":435},{"t":"2021-04-11","v":444},{"t":"2021-04-14","v":463},{"t":"2021-04-15","v":481},{"t":"2021-04-16","v":477},{"t":"2021-04-18","v":463},{"t":"2021-04-20","v":444},{"t":"2021-04-21","v":417},{"t":"2021-04-22","v":389},{"t":"2021-04-24","v":370},{"t":"2021-04-25","v":389},{"t":"2021-04-27","v":407},{"t":"2021-04-28","v":398},{"t":"2021-04-29","v":407},
{"t":"2021-05-01","v":426},{"t":"2021-05-02","v":398},{"t":"2021-05-04","v":417},{"t":"2021-05-05","v":407},{"t":"2021-05-07","v":417},{"t":"2021-05-10","v":417},{"t":"2021-05-11","v":407},{"t":"2021-05-12","v":389},{"t":"2021-05-14","v":361},{"t":"2021-05-15","v":352},{"t":"2021-05-17","v":287},{"t":"2021-05-18","v":259},{"t":"2021-05-20","v":268},{"t":"2021-05-21","v":231},{"t":"2021-05-22","v":241},{"t":"2021-05-24","v":250},{"t":"2021-05-25","v":231},{"t":"2021-05-27","v":241},{"t":"2021-05-28","v":222},{"t":"2021-05-29","v":231},{"t":"2021-05-31","v":241},
{"t":"2021-06-01","v":222},{"t":"2021-06-04","v":231},{"t":"2021-06-05","v":250},{"t":"2021-06-07","v":259},{"t":"2021-06-08","v":231},{"t":"2021-06-10","v":222},{"t":"2021-06-11","v":213},{"t":"2021-06-12","v":222},{"t":"2021-06-14","v":241},{"t":"2021-06-15","v":259},{"t":"2021-06-17","v":250},{"t":"2021-06-18","v":231},{"t":"2021-06-20","v":213},{"t":"2021-06-21","v":194},{"t":"2021-06-23","v":185},{"t":"2021-06-24","v":204},{"t":"2021-06-26","v":194},{"t":"2021-06-27","v":213},{"t":"2021-06-28","v":185},{"t":"2021-06-30","v":222},
{"t":"2021-07-01","v":213},{"t":"2021-07-03","v":204},{"t":"2021-07-06","v":194},{"t":"2021-07-08","v":204},{"t":"2021-07-11","v":204},{"t":"2021-07-14","v":194},{"t":"2021-07-17","v":191},{"t":"2021-07-20","v":185},{"t":"2021-07-21","v":176},{"t":"2021-07-23","v":194},{"t":"2021-07-24","v":213},{"t":"2021-07-25","v":241},{"t":"2021-07-27","v":268},{"t":"2021-07-28","v":278},{"t":"2021-07-30","v":268},{"t":"2021-07-31","v":287},
{"t":"2021-08-01","v":306},{"t":"2021-08-03","v":315},{"t":"2021-08-04","v":306},{"t":"2021-08-06","v":324},{"t":"2021-08-07","v":333},{"t":"2021-08-09","v":324},{"t":"2021-08-10","v":315},{"t":"2021-08-12","v":324},{"t":"2021-08-13","v":343},{"t":"2021-08-14","v":352},{"t":"2021-08-16","v":343},{"t":"2021-08-17","v":333},{"t":"2021-08-19","v":343},{"t":"2021-08-20","v":333},{"t":"2021-08-22","v":343},{"t":"2021-08-23","v":333},{"t":"2021-08-24","v":343},{"t":"2021-08-26","v":333},{"t":"2021-08-28","v":352},{"t":"2021-08-31","v":361},
{"t":"2021-09-03","v":370},{"t":"2021-09-05","v":380},{"t":"2021-09-06","v":343},{"t":"2021-09-08","v":333},{"t":"2021-09-09","v":324},{"t":"2021-09-10","v":315},{"t":"2021-09-12","v":333},{"t":"2021-09-13","v":343},{"t":"2021-09-15","v":339},{"t":"2021-09-16","v":324},{"t":"2021-09-18","v":306},{"t":"2021-09-19","v":278},{"t":"2021-09-20","v":296},{"t":"2021-09-22","v":315},{"t":"2021-09-23","v":306},{"t":"2021-09-25","v":296},{"t":"2021-09-26","v":293},{"t":"2021-09-27","v":301.05}]
},
"vconcat": [
{
"title": {"text": "© StockCharts.com", "subtitle": "Open 0.260  High 0.260  Low 0.260  Close 0.260  Chg +0.011 (+4.38%) ▲", "anchor": "end", "fontSize": 5.4, "fontWeight": "normal", "subtitleFontSize": 5.3, "subtitlePadding": 1, "dx": -25, "offset": -15.5, "color": "#666", "subtitleColor": "#222"},
"resolve": {"scale": {"x": "independent", "y": "independent", "color": "independent", "fill": "independent"}, "legend": {"color": "independent"}},
"vconcat": [
{
"width": 608, "height": 93,
"title": {"text": "2100NEWS Crypto Market Breadth Digital Assets Indicator Percent of NWST1100 DA Above 50-Day EMA (private) UserData", "anchor": "start", "dx": 47, "fontSize": 5.6, "fontWeight": "normal", "offset": 7.5, "color": "#333"},
"view": {"fill": "#fcf4e0"},
"resolve": {"axis": {"x": "independent", "y": "independent"}},
"layer": [
{"data": {"name": "la"}, "mark": {"type": "area", "opacity": 1},
 "encoding": {
  "x": {"field": "t", "type": "temporal", "scale": {"type": "utc", "domain": [{"year": 2020, "month": 8, "date": 1, "utc": true}, {"year": 2021, "month": 9, "date": 30, "utc": true}]}, "axis": null},
  "y": {"field": "v", "type": "quantitative", "scale": {"domain": [-0.023, 1.037], "nice": false, "zero": false}, "axis": null},
  "y2": {"datum": 0},
  "color": {"datum": "@NWSLA50R 0.32", "scale": {"domain": ["@NWSLA50R 0.32", "EMA(3) 0.32"], "range": ["#e2b246", "#4646c8"]},
            "legend": {"orient": "top-left", "title": null, "offset": 2, "padding": 0, "labelFontSize": 5.6, "symbolType": "stroke", "symbolSize": 36, "symbolStrokeWidth": 2, "rowPadding": 0, "labelOffset": 2,
                       "encode": {"labels": {"update": {"fill": {"signal": "indexof(datum.value, 'EMA') == 0 ? '#4646c8' : '#333333'"}}}}}}}},
{"data": {"name": "bands"}, "mark": {"type": "rect", "clip": true},
 "encoding": {
  "y": {"field": "lo", "type": "quantitative", "scale": {"domain": [-0.023, 1.037], "nice": false, "zero": false},
        "axis": {"orient": "right", "values": [0, 0.1, 0.2, 0.4, 0.5, 0.6, 0.7, 0.8, 0.9, 1], "format": ".1f", "title": null, "domain": false, "tickSize": 3, "tickColor": "#999", "labelPadding": 1, "grid": true, "gridDash": [1, 2], "gridColor": "#a89e8a", "gridOpacity": 0.5, "zindex": 1}},
  "y2": {"field": "hi"},
  "fill": {"field": "band", "type": "nominal", "scale": {"domain": ["low", "mid", "high"], "range": ["rgba(72,194,144,0.1)", "rgba(255,255,255,0)", "rgba(227,105,113,0.3)"]}, "legend": null}}},
{"data": {"name": "stripes"}, "mark": {"type": "rect", "clip": true, "color": "#6a4a10", "opacity": 0.05},
 "encoding": {
  "x": {"field": "a", "type": "temporal", "scale": {"type": "utc", "domain": [{"year": 2020, "month": 8, "date": 1, "utc": true}, {"year": 2021, "month": 9, "date": 30, "utc": true}]},
        "axis": {"orient": "top", "grid": true, "gridDash": [1, 2], "gridColor": "#a89e8a", "gridOpacity": 0.45, "labels": false, "ticks": false, "domain": false, "title": null, "tickCount": {"interval": "week", "step": 1}, "zindex": 1, "offset": 0, "minExtent": 0, "maxExtent": 0}},
  "x2": {"field": "b"}}},
{"data": {"values": [{}]}, "mark": {"type": "rule", "color": "#ee9c88", "strokeWidth": 1}, "encoding": {"y": {"datum": 0.7, "scale": {"domain": [-0.023, 1.037], "nice": false, "zero": false}, "axis": null}}},
{"data": {"name": "la"}, "mark": {"type": "line", "color": "#2a2a48", "strokeWidth": 0.9},
 "encoding": {
  "x": {"field": "t", "type": "temporal", "scale": {"type": "utc", "domain": [{"year": 2020, "month": 8, "date": 1, "utc": true}, {"year": 2021, "month": 9, "date": 30, "utc": true}]}, "axis": null},
  "y": {"field": "v", "type": "quantitative", "scale": {"domain": [-0.023, 1.037], "nice": false, "zero": false}, "axis": null}}},
{"data": {"name": "last"}, "transform": [{"filter": "datum.p == 'la'"}],
 "encoding": {
  "x": {"field": "t", "type": "temporal", "scale": {"type": "utc", "domain": [{"year": 2020, "month": 8, "date": 1, "utc": true}, {"year": 2021, "month": 9, "date": 30, "utc": true}]}, "axis": null},
  "y": {"field": "v", "type": "quantitative", "scale": {"domain": [-0.023, 1.037], "nice": false, "zero": false}, "axis": null}},
 "layer": [
  {"mark": {"type": "point", "shape": "M1.1,-0.42H2.7V0.42H1.1Z", "size": 400, "filled": true, "fill": "#e9eded", "stroke": "#333", "strokeWidth": 0.8, "opacity": 1}},
  {"mark": {"type": "text", "dx": 19, "fontSize": 6.3, "fontWeight": "bold", "color": "#111"}, "encoding": {"text": {"field": "v", "type": "quantitative", "format": ".2f"}}}]}
]
}
]
},
{
"width": 608, "height": 271,
"view": {"fill": "#fcf4e0"},
"resolve": {"axis": {"x": "independent", "y": "independent"}},
"layer": [
{"data": {"name": "bands"}, "mark": {"type": "rect", "clip": true},
 "encoding": {
  "y": {"field": "lo", "type": "quantitative", "scale": {"domain": [0, 0.928], "nice": false, "zero": false},
        "axis": {"orient": "right", "values": [0.025, 0.05, 0.075, 0.1, 0.125, 0.15, 0.175, 0.2, 0.225, 0.3, 0.325, 0.35, 0.375, 0.4, 0.425, 0.45, 0.475, 0.5, 0.525, 0.55, 0.575, 0.6, 0.625, 0.65, 0.675, 0.7, 0.725, 0.75, 0.775, 0.8, 0.825, 0.85, 0.875, 0.9], "format": ".3f", "title": null, "domain": false, "tickSize": 3, "tickColor": "#999", "labelPadding": 1, "labelFontSize": 5.8, "grid": true, "gridDash": [1, 2], "gridColor": "#a89e8a", "gridOpacity": 0.45, "zindex": 1}},
  "y2": {"field": "hi"},
  "fill": {"field": "band", "type": "nominal", "scale": {"domain": ["low", "mid", "high"], "range": ["rgba(72,194,144,0.1)", "rgba(255,255,255,0)", "rgba(227,105,113,0.3)"]}, "legend": null}}},
{"data": {"name": "stripes"}, "mark": {"type": "rect", "clip": true, "color": "#6a4a10", "opacity": 0.05},
 "encoding": {
  "x": {"field": "a", "type": "temporal", "scale": {"type": "utc", "domain": [{"year": 2020, "month": 8, "date": 1, "utc": true}, {"year": 2021, "month": 9, "date": 30, "utc": true}]},
        "axis": {"orient": "top", "grid": true, "gridDash": [1, 2], "gridColor": "#a89e8a", "gridOpacity": 0.45, "labels": false, "ticks": false, "domain": false, "title": null, "tickCount": {"interval": "week", "step": 1}, "zindex": 1, "offset": 0, "minExtent": 0, "maxExtent": 0}},
  "x2": {"field": "b"}}},
{"data": {"values": [{}]}, "mark": {"type": "rule", "color": "#ee9c88", "strokeWidth": 1}, "encoding": {"y": {"datum": 0.7, "scale": {"domain": [0, 0.928], "nice": false, "zero": false}, "axis": null}}},
{"data": {"name": "main"}, "mark": {"type": "line", "strokeWidth": 1.1},
 "encoding": {
  "x": {"field": "t", "type": "temporal", "scale": {"type": "utc", "domain": [{"year": 2020, "month": 8, "date": 1, "utc": true}, {"year": 2021, "month": 9, "date": 30, "utc": true}]},
        "axis": {"orient": "bottom", "grid": false, "ticks": false, "domain": false, "title": null, "tickCount": {"interval": "month", "step": 1}, "labelExpr": "utcFormat(datum.value, '%m') == '01' ? '2021' : utcFormat(datum.value, '%b')", "labelAlign": "left", "labelFontSize": 6.3, "labelPadding": 1, "labelOverlap": false, "labelFlush": false, "labelFontWeight": {"condition": {"test": "utcFormat(datum.value, '%m') == '01'", "value": "bold"}, "value": "normal"}}},
  "y": {"field": "v", "type": "quantitative", "scale": {"domain": [0, 0.928], "nice": false, "zero": false}, "axis": null},
  "color": {"datum": "@NWSTA50R (Daily) 0.260", "scale": {"domain": ["@NWSTA50R (Daily) 0.260", "EMA(3) 0.267"], "range": ["#d0742a", "#f0a434"]},
            "legend": {"orient": "top-left", "title": null, "offset": 2, "padding": 0, "labelFontSize": 5.6, "symbolType": "stroke", "symbolSize": 36, "symbolStrokeWidth": 2, "rowPadding": 0, "labelOffset": 2,
                       "encode": {"labels": {"update": {"fill": {"signal": "indexof(datum.value, 'EMA') == 0 ? '#e8901c' : '#333333'"}}}}}}}},
{"data": {"name": "notes"},
 "encoding": {
  "x": {"field": "t", "type": "temporal", "scale": {"type": "utc", "domain": [{"year": 2020, "month": 8, "date": 1, "utc": true}, {"year": 2021, "month": 9, "date": 30, "utc": true}]}, "axis": null},
  "y": {"field": "v", "type": "quantitative", "scale": {"domain": [0, 0.928], "nice": false, "zero": false}, "axis": null}},
 "layer": [
  {"transform": [{"filter": "datum.pos == 'up'"}], "mark": {"type": "point", "shape": "M-0.85,-0.84H0.85V-0.28H-0.85Z", "size": 400, "filled": true, "fill": "#e2e7e7", "stroke": "#9a9a9a", "strokeWidth": 0.5, "opacity": 1}},
  {"transform": [{"filter": "datum.pos == 'up'"}], "mark": {"type": "text", "dy": -5.6, "fontSize": 5, "color": "#333"}, "encoding": {"text": {"field": "v", "type": "quantitative", "format": ".4f"}}},
  {"transform": [{"filter": "datum.pos == 'down'"}], "mark": {"type": "point", "shape": "M-0.85,0.28H0.85V0.84H-0.85Z", "size": 400, "filled": true, "fill": "#e2e7e7", "stroke": "#9a9a9a", "strokeWidth": 0.5, "opacity": 1}},
  {"transform": [{"filter": "datum.pos == 'down'"}], "mark": {"type": "text", "dy": 5.6, "fontSize": 5, "color": "#333"}, "encoding": {"text": {"field": "v", "type": "quantitative", "format": ".4f"}}}]},
{"data": {"name": "last"}, "transform": [{"filter": "datum.p == 'main'"}],
 "encoding": {
  "x": {"field": "t", "type": "temporal", "scale": {"type": "utc", "domain": [{"year": 2020, "month": 8, "date": 1, "utc": true}, {"year": 2021, "month": 9, "date": 30, "utc": true}]}, "axis": null},
  "y": {"field": "v", "type": "quantitative", "scale": {"domain": [0, 0.928], "nice": false, "zero": false}, "axis": null}},
 "layer": [
  {"mark": {"type": "point", "shape": "M0.9,-0.42H2.7V0.42H0.9Z", "size": 400, "filled": true, "fill": "#e9eded", "stroke": "#d98a30", "strokeWidth": 1, "opacity": 1}},
  {"mark": {"type": "text", "dx": 18, "fontSize": 6.3, "fontWeight": "bold", "color": "#111"}, "encoding": {"text": {"field": "v", "type": "quantitative", "format": ".3f"}}}]}
]
},
{
"width": 608, "height": 95,
"view": {"fill": "#fcf4e0"},
"resolve": {"axis": {"x": "independent", "y": "independent"}},
"layer": [
{"data": {"name": "sea"}, "mark": {"type": "area", "opacity": 1},
 "encoding": {
  "x": {"field": "t", "type": "temporal", "scale": {"type": "utc", "domain": [{"year": 2020, "month": 8, "date": 1, "utc": true}, {"year": 2021, "month": 9, "date": 30, "utc": true}]}, "axis": null},
  "y": {"field": "v", "type": "quantitative", "scale": {"domain": [0, 1.036], "nice": false, "zero": false}, "axis": null},
  "y2": {"datum": 0},
  "color": {"datum": "@NWSEA50R 0.24", "scale": {"domain": ["@NWSEA50R 0.24", "EMA(3) 0.25"], "range": ["#e2b246", "#4646c8"]},
            "legend": {"orient": "top-left", "title": null, "offset": 2, "padding": 0, "labelFontSize": 5.6, "symbolType": "stroke", "symbolSize": 36, "symbolStrokeWidth": 2, "rowPadding": 0, "labelOffset": 2,
                       "encode": {"labels": {"update": {"fill": {"signal": "indexof(datum.value, 'EMA') == 0 ? '#4646c8' : '#333333'"}}}}}}}},
{"data": {"name": "bands"}, "mark": {"type": "rect", "clip": true},
 "encoding": {
  "y": {"field": "lo", "type": "quantitative", "scale": {"domain": [0, 1.036], "nice": false, "zero": false},
        "axis": {"orient": "right", "values": [0.1, 0.3, 0.4, 0.5, 0.6, 0.7, 0.8, 0.9, 1], "format": ".1f", "title": null, "domain": false, "tickSize": 3, "tickColor": "#999", "labelPadding": 1, "grid": true, "gridDash": [1, 2], "gridColor": "#a89e8a", "gridOpacity": 0.5, "zindex": 1}},
  "y2": {"field": "hi"},
  "fill": {"field": "band", "type": "nominal", "scale": {"domain": ["low", "mid", "high"], "range": ["rgba(72,194,144,0.1)", "rgba(255,255,255,0)", "rgba(227,105,113,0.3)"]}, "legend": null}}},
{"data": {"name": "stripes"}, "mark": {"type": "rect", "clip": true, "color": "#6a4a10", "opacity": 0.05},
 "encoding": {
  "x": {"field": "a", "type": "temporal", "scale": {"type": "utc", "domain": [{"year": 2020, "month": 8, "date": 1, "utc": true}, {"year": 2021, "month": 9, "date": 30, "utc": true}]},
        "axis": {"orient": "top", "grid": true, "gridDash": [1, 2], "gridColor": "#a89e8a", "gridOpacity": 0.45, "labels": false, "ticks": false, "domain": false, "title": null, "tickCount": {"interval": "week", "step": 1}, "zindex": 1, "offset": 0, "minExtent": 0, "maxExtent": 0}},
  "x2": {"field": "b"}}},
{"data": {"values": [{}]}, "mark": {"type": "rule", "color": "#ee9c88", "strokeWidth": 1}, "encoding": {"y": {"datum": 0.7, "scale": {"domain": [0, 1.036], "nice": false, "zero": false}, "axis": null}}},
{"data": {"name": "sea"}, "mark": {"type": "line", "color": "#2a2a48", "strokeWidth": 0.9},
 "encoding": {
  "x": {"field": "t", "type": "temporal", "scale": {"type": "utc", "domain": [{"year": 2020, "month": 8, "date": 1, "utc": true}, {"year": 2021, "month": 9, "date": 30, "utc": true}]}, "axis": null},
  "y": {"field": "v", "type": "quantitative", "scale": {"domain": [0, 1.036], "nice": false, "zero": false}, "axis": null}}},
{"data": {"name": "last"}, "transform": [{"filter": "datum.p == 'sea'"}],
 "encoding": {
  "x": {"field": "t", "type": "temporal", "scale": {"type": "utc", "domain": [{"year": 2020, "month": 8, "date": 1, "utc": true}, {"year": 2021, "month": 9, "date": 30, "utc": true}]}, "axis": null},
  "y": {"field": "v", "type": "quantitative", "scale": {"domain": [0, 1.036], "nice": false, "zero": false}, "axis": null}},
 "layer": [
  {"mark": {"type": "point", "shape": "M1.1,-0.42H2.7V0.42H1.1Z", "size": 400, "filled": true, "fill": "#e9eded", "stroke": "#333", "strokeWidth": 0.8, "opacity": 1}},
  {"mark": {"type": "text", "dx": 19, "fontSize": 6.3, "fontWeight": "bold", "color": "#111"}, "encoding": {"text": {"field": "v", "type": "quantitative", "format": ".2f"}}}]}
]
},
{
"width": 608, "height": 94,
"view": {"fill": "#fcf4e0"},
"resolve": {"axis": {"x": "independent", "y": "independent"}},
"layer": [
{"data": {"name": "sca"}, "mark": {"type": "area", "opacity": 1},
 "encoding": {
  "x": {"field": "t", "type": "temporal", "scale": {"type": "utc", "domain": [{"year": 2020, "month": 8, "date": 1, "utc": true}, {"year": 2021, "month": 9, "date": 30, "utc": true}]}, "axis": null},
  "y": {"field": "v", "type": "quantitative", "scale": {"domain": [-0.025, 1.02], "nice": false, "zero": false}, "axis": null},
  "y2": {"datum": 0},
  "color": {"datum": "@NWSCA50R 0.30", "scale": {"domain": ["@NWSCA50R 0.30", "EMA(3) 0.31"], "range": ["#e2b246", "#4646c8"]},
            "legend": {"orient": "top-left", "title": null, "offset": 2, "padding": 0, "labelFontSize": 5.6, "symbolType": "stroke", "symbolSize": 36, "symbolStrokeWidth": 2, "rowPadding": 0, "labelOffset": 2,
                       "encode": {"labels": {"update": {"fill": {"signal": "indexof(datum.value, 'EMA') == 0 ? '#4646c8' : '#333333'"}}}}}}}},
{"data": {"name": "bands"}, "mark": {"type": "rect", "clip": true},
 "encoding": {
  "y": {"field": "lo", "type": "quantitative", "scale": {"domain": [-0.025, 1.02], "nice": false, "zero": false},
        "axis": {"orient": "right", "values": [0, 0.1, 0.2, 0.4, 0.5, 0.6, 0.7, 0.8, 0.9, 1], "format": ".1f", "title": null, "domain": false, "tickSize": 3, "tickColor": "#999", "labelPadding": 1, "grid": true, "gridDash": [1, 2], "gridColor": "#a89e8a", "gridOpacity": 0.5, "zindex": 1}},
  "y2": {"field": "hi"},
  "fill": {"field": "band", "type": "nominal", "scale": {"domain": ["low", "mid", "high"], "range": ["rgba(72,194,144,0.1)", "rgba(255,255,255,0)", "rgba(227,105,113,0.3)"]}, "legend": null}}},
{"data": {"name": "stripes"}, "mark": {"type": "rect", "clip": true, "color": "#6a4a10", "opacity": 0.05},
 "encoding": {
  "x": {"field": "a", "type": "temporal", "scale": {"type": "utc", "domain": [{"year": 2020, "month": 8, "date": 1, "utc": true}, {"year": 2021, "month": 9, "date": 30, "utc": true}]},
        "axis": {"orient": "top", "grid": true, "gridDash": [1, 2], "gridColor": "#a89e8a", "gridOpacity": 0.45, "labels": false, "ticks": false, "domain": false, "title": null, "tickCount": {"interval": "week", "step": 1}, "zindex": 1, "offset": 0, "minExtent": 0, "maxExtent": 0}},
  "x2": {"field": "b"}}},
{"data": {"values": [{}]}, "mark": {"type": "rule", "color": "#ee9c88", "strokeWidth": 1}, "encoding": {"y": {"datum": 0.7, "scale": {"domain": [-0.025, 1.02], "nice": false, "zero": false}, "axis": null}}},
{"data": {"name": "sca"}, "mark": {"type": "line", "color": "#2a2a48", "strokeWidth": 0.9},
 "encoding": {
  "x": {"field": "t", "type": "temporal", "scale": {"type": "utc", "domain": [{"year": 2020, "month": 8, "date": 1, "utc": true}, {"year": 2021, "month": 9, "date": 30, "utc": true}]}, "axis": null},
  "y": {"field": "v", "type": "quantitative", "scale": {"domain": [-0.025, 1.02], "nice": false, "zero": false}, "axis": null}}},
{"data": {"name": "last"}, "transform": [{"filter": "datum.p == 'sca'"}],
 "encoding": {
  "x": {"field": "t", "type": "temporal", "scale": {"type": "utc", "domain": [{"year": 2020, "month": 8, "date": 1, "utc": true}, {"year": 2021, "month": 9, "date": 30, "utc": true}]}, "axis": null},
  "y": {"field": "v", "type": "quantitative", "scale": {"domain": [-0.025, 1.02], "nice": false, "zero": false}, "axis": null}},
 "layer": [
  {"mark": {"type": "point", "shape": "M1.1,-0.42H2.7V0.42H1.1Z", "size": 400, "filled": true, "fill": "#e9eded", "stroke": "#333", "strokeWidth": 0.8, "opacity": 1}},
  {"mark": {"type": "text", "dx": 19, "fontSize": 6.3, "fontWeight": "bold", "color": "#111"}, "encoding": {"text": {"field": "v", "type": "quantitative", "format": ".2f"}}}]}
]
},
{
"width": 608, "height": 93,
"view": {"fill": "#fcf4e0"},
"resolve": {"axis": {"x": "independent", "y": "independent"}},
"layer": [
{"data": {"name": "stripes"}, "mark": {"type": "rect", "clip": true, "color": "#6a4a10", "opacity": 0.05},
 "encoding": {
  "x": {"field": "a", "type": "temporal", "scale": {"type": "utc", "domain": [{"year": 2020, "month": 8, "date": 1, "utc": true}, {"year": 2021, "month": 9, "date": 30, "utc": true}]},
        "axis": {"orient": "top", "grid": true, "gridDash": [1, 2], "gridColor": "#a89e8a", "gridOpacity": 0.45, "labels": false, "ticks": false, "domain": false, "title": null, "tickCount": {"interval": "week", "step": 1}, "zindex": 1, "offset": 0, "minExtent": 0, "maxExtent": 0}},
  "x2": {"field": "b"}}},
{"data": {"values": [{}]}, "mark": {"type": "rule", "color": "#777", "strokeDash": [1, 2], "strokeWidth": 0.8},
 "encoding": {"y": {"datum": 0, "type": "quantitative", "scale": {"domain": [-24, 498], "nice": false, "zero": false},
  "axis": {"orient": "right", "values": [0, 50, 100, 150, 200, 250, 350, 400, 450], "labelExpr": "datum.value + '%'", "title": null, "domain": false, "tickSize": 3, "tickColor": "#999", "labelPadding": 1, "labelFontSize": 5.8, "grid": true, "gridDash": [1, 2], "gridColor": "#a89e8a", "gridOpacity": 0.5, "zindex": 1}}}},
{"data": {"name": "btc"}, "mark": {"type": "line", "strokeWidth": 1.1},
 "encoding": {
  "x": {"field": "t", "type": "temporal", "scale": {"type": "utc", "domain": [{"year": 2020, "month": 8, "date": 1, "utc": true}, {"year": 2021, "month": 9, "date": 30, "utc": true}]},
        "axis": {"orient": "bottom", "grid": false, "ticks": false, "domain": false, "title": null, "tickCount": {"interval": "month", "step": 1}, "labelExpr": "utcFormat(datum.value, '%m') == '01' ? '2021' : utcFormat(datum.value, '%b')", "labelAlign": "left", "labelFontSize": 6.3, "labelPadding": 1, "labelOverlap": false, "labelFlush": false, "labelFontWeight": {"condition": {"test": "utcFormat(datum.value, '%m') == '01'", "value": "bold"}, "value": "normal"}}},
  "y": {"field": "v", "type": "quantitative", "scale": {"domain": [-24, 498], "nice": false, "zero": false}, "axis": null},
  "color": {"datum": "$BTCUSD 301.05%", "scale": {"domain": ["$BTCUSD 301.05%"], "range": ["#485856"]},
            "legend": {"orient": "top-left", "title": null, "offset": 2, "padding": 0, "labelFontSize": 5.6, "labelColor": "#333", "symbolType": "stroke", "symbolSize": 36, "symbolStrokeWidth": 2, "rowPadding": 0, "labelOffset": 2}}}},
{"data": {"name": "last"}, "transform": [{"filter": "datum.p == 'btc'"}, {"calculate": "format(datum.v, '.2f') + '%'", "as": "txt"}],
 "encoding": {
  "x": {"field": "t", "type": "temporal", "scale": {"type": "utc", "domain": [{"year": 2020, "month": 8, "date": 1, "utc": true}, {"year": 2021, "month": 9, "date": 30, "utc": true}]}, "axis": null},
  "y": {"field": "v", "type": "quantitative", "scale": {"domain": [-24, 498], "nice": false, "zero": false}, "axis": null}},
 "layer": [
  {"mark": {"type": "point", "shape": "M0.8,-0.42H2.9V0.42H0.8Z", "size": 400, "filled": true, "fill": "#e9eded", "stroke": "#333", "strokeWidth": 0.8, "opacity": 1}},
  {"mark": {"type": "text", "dx": 18.5, "fontSize": 5.3, "fontWeight": "bold", "color": "#111"}, "encoding": {"text": {"field": "txt", "type": "nominal"}}}]}
]
}
],
"config": {
 "font": "Liberation Sans",
 "view": {"stroke": "#b5ab98", "strokeWidth": 0.8},
 "axis": {"labelFont": "Liberation Sans", "labelColor": "#333", "labelFontSize": 6.3},
 "legend": {"labelFont": "Liberation Sans"},
 "title": {"font": "Liberation Sans", "color": "#222", "subtitleFont": "Liberation Sans"}
}
}
